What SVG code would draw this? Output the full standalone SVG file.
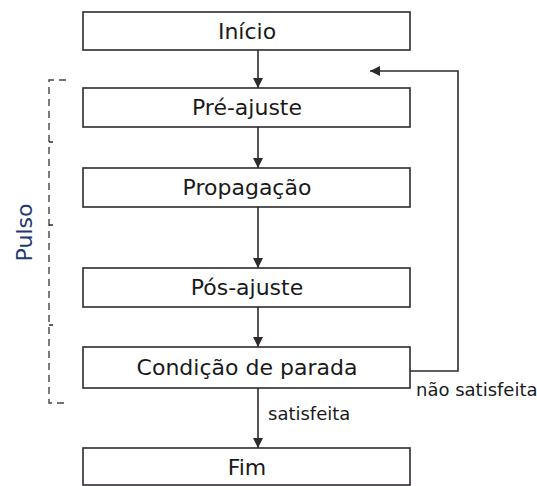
<svg xmlns="http://www.w3.org/2000/svg" width="537" height="486" viewBox="0 0 537 486">
<defs>
<style>
.box{fill:#fff;stroke:#2e2a2e;stroke-width:1.6}
.t{font-family:"DejaVu Sans",sans-serif;font-size:22px;fill:#1a1a1a;text-anchor:middle}
.lbl{font-family:"DejaVu Sans",sans-serif;font-size:18px;fill:#1a1a1a}
.ln{fill:none;stroke:#2e2a2e;stroke-width:1.6}
.dash{fill:none;stroke:#444;stroke-width:1.4;stroke-dasharray:7,5}
</style>
<marker id="ah" viewBox="0 0 10 10" refX="10" refY="5" markerWidth="10" markerHeight="10" markerUnits="userSpaceOnUse" orient="auto">
<path d="M0,0 L10,5 L0,10 Z" fill="#2e2a2e"/>
</marker>
</defs>
<rect width="537" height="486" fill="#fff"/>
<g id="inicio"><rect class="box" x="83" y="12" width="327" height="38"/><text class="t" x="247" y="39">Início</text></g>
<g id="preajuste"><rect class="box" x="83" y="88" width="327" height="39"/><text class="t" x="247" y="115">Pré-ajuste</text></g>
<g id="propagacao"><rect class="box" x="83" y="168" width="327" height="39"/><text class="t" x="247" y="195">Propagação</text></g>
<g id="posajuste"><rect class="box" x="83" y="268" width="327" height="39"/><text class="t" x="247" y="295">Pós-ajuste</text></g>
<g id="condicao"><rect class="box" x="83" y="347" width="327" height="41"/><text class="t" x="247" y="375">Condição de parada</text></g>
<g id="fim"><rect class="box" x="83" y="448" width="327" height="37"/><text class="t" x="247" y="475">Fim</text></g>
<g id="pulso">
<path class="dash" d="M66,80 H49 V403 H66"/>
<path class="ln" d="M49,142 h4 M49,225 h4 M49,325 h4" stroke-width="1.2"/>
<text class="t" transform="translate(32,232.5) rotate(-90)" style="fill:#1e3a6e">Pulso</text>
</g>
<g id="connectors">
<line class="ln" x1="258" y1="50" x2="258" y2="88" marker-end="url(#ah)"/>
<line class="ln" x1="258" y1="127" x2="258" y2="168" marker-end="url(#ah)"/>
<line class="ln" x1="258" y1="207" x2="258" y2="268" marker-end="url(#ah)"/>
<line class="ln" x1="258" y1="307" x2="258" y2="347" marker-end="url(#ah)"/>
<line class="ln" x1="258" y1="388" x2="258" y2="448" marker-end="url(#ah)"/>
<polyline class="ln" points="410,371 458,371 458,71 370,71" marker-end="url(#ah)"/>
<text class="lbl" x="268" y="420">satisfeita</text>
<text class="lbl" x="416" y="396">não satisfeita</text>
</g>
</svg>
